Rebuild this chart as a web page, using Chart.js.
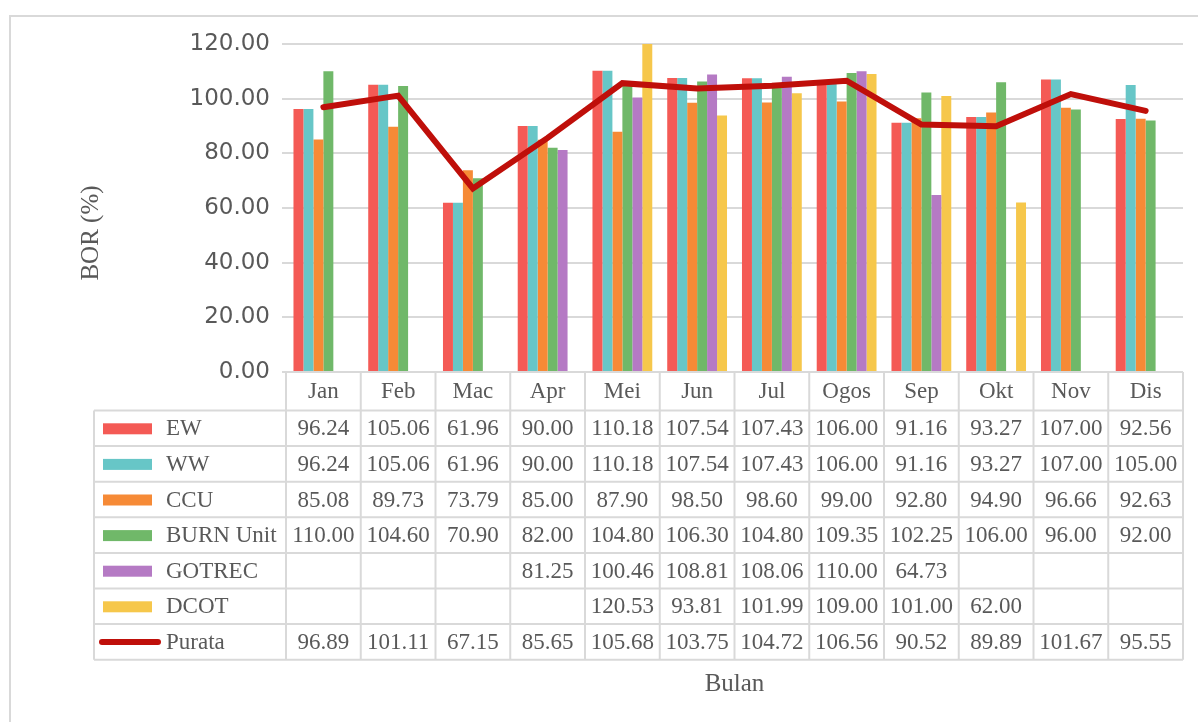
<!DOCTYPE html>
<html lang="ms">
<head>
  <meta charset="UTF-8">
  <script src="https://cdn.jsdelivr.net/npm/chart.js"></script>
  <title>BOR</title>
  <style>
    html, body { margin: 0; padding: 0; background: #fff; }
    #wrap { position: relative; width: 1198px; height: 722px; }
    #frame { position: absolute; left: 9px; top: 15px; width: 1200px; height: 720px; border: 2px solid #D9D9D9; box-sizing: border-box; }
  </style>
</head>
<body>
<div id="wrap">
  <div id="frame"></div>
  <canvas id="myChart" width="1198" height="722" style="position:absolute;left:0;top:0;"></canvas>
</div>
<script>
  const months = ['Jan', 'Feb', 'Mac', 'Apr', 'Mei', 'Jun', 'Jul', 'Ogos', 'Sep', 'Okt', 'Nov', 'Dis'];
  const ew     = [96.24, 105.06, 61.96, 90.00, 110.18, 107.54, 107.43, 106.00, 91.16, 93.27, 107.00, 92.56];
  const ww     = [96.24, 105.06, 61.96, 90.00, 110.18, 107.54, 107.43, 106.00, 91.16, 93.27, 107.00, 105.00];
  const ccu    = [85.08, 89.73, 73.79, 85.00, 87.90, 98.50, 98.60, 99.00, 92.80, 94.90, 96.66, 92.63];
  const burn   = [110.00, 104.60, 70.90, 82.00, 104.80, 106.30, 104.80, 109.35, 102.25, 106.00, 96.00, 92.00];
  const gotrec = [null, null, null, 81.25, 100.46, 108.81, 108.06, 110.00, 64.73, null, null, null];
  const dcot   = [null, null, null, null, 120.53, 93.81, 101.99, 109.00, 101.00, 62.00, null, null];
  const purata = [96.89, 101.11, 67.15, 85.65, 105.68, 103.75, 104.72, 106.56, 90.52, 89.89, 101.67, 95.55];
  const yTicks = [0, 20, 40, 60, 80, 100, 120];

  const textColor = '#595959';
  const lineGray = '#D9D9D9';
  const serif = '"Liberation Serif", "Times New Roman", serif';

  function bar(label, data, color) {
    return { type: 'bar', label: label, data: data, backgroundColor: color, order: 2,
             categoryPercentage: 0.8, barPercentage: 1.0 };
  }

  const datasets = [
    bar('EW', ew, '#F45A55'),
    bar('WW', ww, '#67C6C7'),
    bar('CCU', ccu, '#F68A36'),
    bar('BURN Unit', burn, '#70B869'),
    bar('GOTREC', gotrec, '#B57AC4'),
    bar('DCOT', dcot, '#F6C74B'),
    { type: 'line', label: 'Purata', data: purata, borderColor: '#BF0F0A', backgroundColor: '#BF0F0A',
      borderWidth: 6, pointRadius: 0, tension: 0, order: 0, borderCapStyle: 'round' }
  ];

  // table under the plot, drawn from the x scale's columns
  const tablePlugin = {
    id: 'dataTable',
    afterDraw(chart) {
      const ctx = chart.ctx;
      const x = chart.scales.x;
      const half = (x.getPixelForValue(1) - x.getPixelForValue(0)) / 2;
      const left = x.getPixelForValue(0) - half;
      const right = x.getPixelForValue(months.length - 1) + half;
      const top = chart.chartArea.bottom;
      const headBottom = top + 38.5;
      const rowH = 35.6;
      const labelLeft = 94;
      const nRows = datasets.length;
      const tableBottom = headBottom + rowH * nRows;

      ctx.save();
      ctx.strokeStyle = lineGray;
      ctx.lineWidth = 2;
      ctx.beginPath();
      // header row lines
      ctx.moveTo(left, top); ctx.lineTo(right, top);
      for (let i = 0; i <= months.length; i++) {
        const cx = left + i * half * 2;
        ctx.moveTo(cx, top); ctx.lineTo(cx, tableBottom);
      }
      for (let r = 0; r <= nRows; r++) {
        const yy = headBottom + r * rowH;
        ctx.moveTo(labelLeft, yy); ctx.lineTo(right, yy);
      }
      ctx.moveTo(labelLeft, headBottom); ctx.lineTo(labelLeft, tableBottom);
      ctx.stroke();

      ctx.fillStyle = textColor;
      ctx.font = '23px ' + serif;
      ctx.textAlign = 'center';
      ctx.textBaseline = 'middle';
      months.forEach((m, i) => {
        ctx.fillText(m, x.getPixelForValue(i), (top + headBottom) / 2 + 1);
      });

      datasets.forEach((ds, r) => {
        const cy = headBottom + r * rowH + rowH / 2 + 1;
        if (ds.type === 'line') {
          ctx.strokeStyle = ds.borderColor;
          ctx.lineWidth = 6;
          ctx.lineCap = 'round';
          ctx.beginPath();
          ctx.moveTo(102, cy - 1); ctx.lineTo(158, cy - 1);
          ctx.stroke();
        } else {
          ctx.fillStyle = ds.backgroundColor;
          ctx.fillRect(103, cy - 6, 49, 11);
        }
        ctx.fillStyle = textColor;
        ctx.textAlign = 'left';
        ctx.fillText(ds.label, 166, cy);
        ctx.textAlign = 'center';
        ds.data.forEach((v, i) => {
          if (v !== null) ctx.fillText(v.toFixed(2), x.getPixelForValue(i), cy);
        });
      });

      // axis titles
      ctx.font = '25px ' + serif;
      ctx.fillText('Bulan', (left + right) / 2, tableBottom + 25);
      ctx.translate(91, 233);
      ctx.rotate(-Math.PI / 2);
      ctx.fillText('BOR (%)', 0, 0);
      ctx.restore();
    }
  };

  new Chart(document.getElementById('myChart'), {
    data: { labels: months, datasets: datasets },
    plugins: [tablePlugin],
    options: {
      responsive: false,
      animation: false,
      layout: { padding: { left: 0, top: 44, right: 15, bottom: 350 } },
      plugins: { legend: { display: false }, tooltip: { enabled: false } },
      scales: {
        x: { display: false, offset: true },
        y: {
          min: 0, max: 120,
          afterFit(scale) { scale.width = 286; },
          afterBuildTicks(scale) { scale.ticks = yTicks.map(v => ({ value: v })); },
          border: { display: false },
          grid: { color: lineGray, lineWidth: 2, tickLength: 4 },
          ticks: {
            padding: 12,
            color: textColor,
            font: { family: '"DejaVu Sans", sans-serif', size: 23 },
            callback: v => Number(v).toFixed(2)
          }
        }
      }
    }
  });
</script>
</body>
</html>
